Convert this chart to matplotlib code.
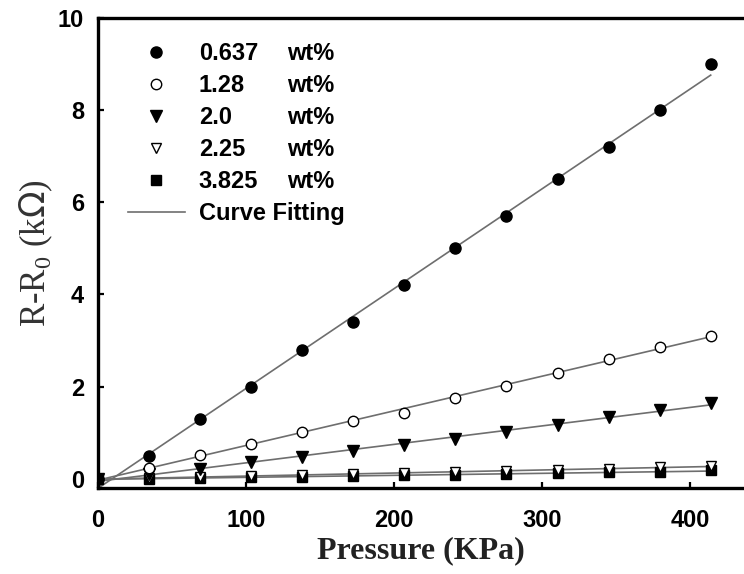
import numpy as np
import matplotlib
matplotlib.use("Agg")
import matplotlib.pyplot as plt
from matplotlib.lines import Line2D

# ---- data ----
pressure = [0, 34.5, 69, 103.5, 138, 172.5, 207, 241.5, 276, 310.5, 345, 379.5, 414]
s_0637 = [0, 0.5, 1.3, 2.0, 2.8, 3.4, 4.2, 5.0, 5.7, 6.5, 7.2, 8.0, 9.0]
s_128 = [0, 0.24, 0.52, 0.76, 1.02, 1.25, 1.42, 1.75, 2.02, 2.3, 2.6, 2.87, 3.1]
s_20 = [0, 0.1, 0.22, 0.37, 0.48, 0.6, 0.74, 0.87, 1.02, 1.17, 1.35, 1.5, 1.65]
s_225 = [0, 0.02, 0.04, 0.06, 0.08, 0.1, 0.12, 0.15, 0.17, 0.19, 0.22, 0.25, 0.28]
s_3825 = [0, 0.0, 0.02, 0.03, 0.04, 0.06, 0.08, 0.09, 0.1, 0.12, 0.14, 0.15, 0.18]
labels = ["0.637", "1.28", "2.0", "2.25", "3.825"]
x_ticks = [0, 100, 200, 300, 400]
y_ticks = [0, 2, 4, 6, 8, 10]

series = [s_0637, s_128, s_20, s_225, s_3825]
styles = [
    dict(marker="o", mfc="black", mec="black", ms=8),
    dict(marker="o", mfc="white", mec="black", ms=7.5, mew=1.0),
    dict(marker="v", mfc="black", mec="black", ms=8),
    dict(marker="v", mfc="white", mec="black", ms=7.5, mew=1.0),
    dict(marker="s", mfc="black", mec="black", ms=7.5),
]

fig = plt.figure(figsize=(7.44, 5.74), dpi=100)
ax = fig.add_axes([98 / 744, 1 - 488 / 574, 1 - 98 / 744, (488 - 18) / 574])

x = np.array(pressure)
fit_color = "#6e6e6e"
for ys in series:
    coef = np.polyfit(x, np.array(ys), 1)
    xf = np.array([x[0], x[-1]])
    ax.plot(xf, np.polyval(coef, xf), color=fit_color, lw=1.2, zorder=2)

for ys, st in zip(series[::-1], styles[::-1]):
    ax.plot(pressure, ys, linestyle="none", zorder=3, **st)
handles = [Line2D([], [], linestyle="none", **st) for st in styles]
handles.append(Line2D([], [], color=fit_color, lw=1.2))

ax.set_xlim(0, 436.5)
ax.set_ylim(-0.2, 10)
ax.set_xticks(x_ticks)
ax.set_yticks(y_ticks)

for sp in ["left", "bottom", "top"]:
    ax.spines[sp].set_linewidth(2.4)
ax.spines["right"].set_visible(False)
ax.tick_params(direction="in", length=4, width=1.6, top=False, right=False)
ax.tick_params(axis="x", pad=15)
ax.tick_params(axis="y", pad=10)
for lbl in ax.get_xticklabels() + ax.get_yticklabels():
    lbl.set_fontfamily("Liberation Sans")
    lbl.set_fontweight("bold")
    lbl.set_fontsize(17)

ax.set_xlabel("Pressure (KPa)", family="Liberation Serif", weight="bold", size=23,
              color="#222222", labelpad=3)
ax.set_ylabel(r"R-R$_{\mathregular{0}}$ (k$\Omega$)", family="Liberation Serif",
              size=25, color="#333333", labelpad=2)

leg_labels = labels + ["Curve Fitting"]
leg = ax.legend(handles, leg_labels, loc="upper left",
                bbox_to_anchor=((128 - 98) / 646, (488 - 42) / 470),
                frameon=False, borderpad=0, borderaxespad=0,
                handlelength=2.4, handletextpad=0.6, labelspacing=0.38,
                prop=dict(family="Liberation Sans", weight="bold", size=17))

fig.canvas.draw()
renderer = fig.canvas.get_renderer()
inv = fig.transFigure.inverted()
for t in leg.get_texts()[:-1]:
    bb = t.get_window_extent(renderer)
    ycen = (bb.y0 + bb.y1) / 2
    xf, yf = inv.transform((287, ycen))
    fig.text(xf, yf, "wt%", ha="left", va="center", family="Liberation Sans",
             weight="bold", size=17)

fig.savefig("out.png", dpi=100)
